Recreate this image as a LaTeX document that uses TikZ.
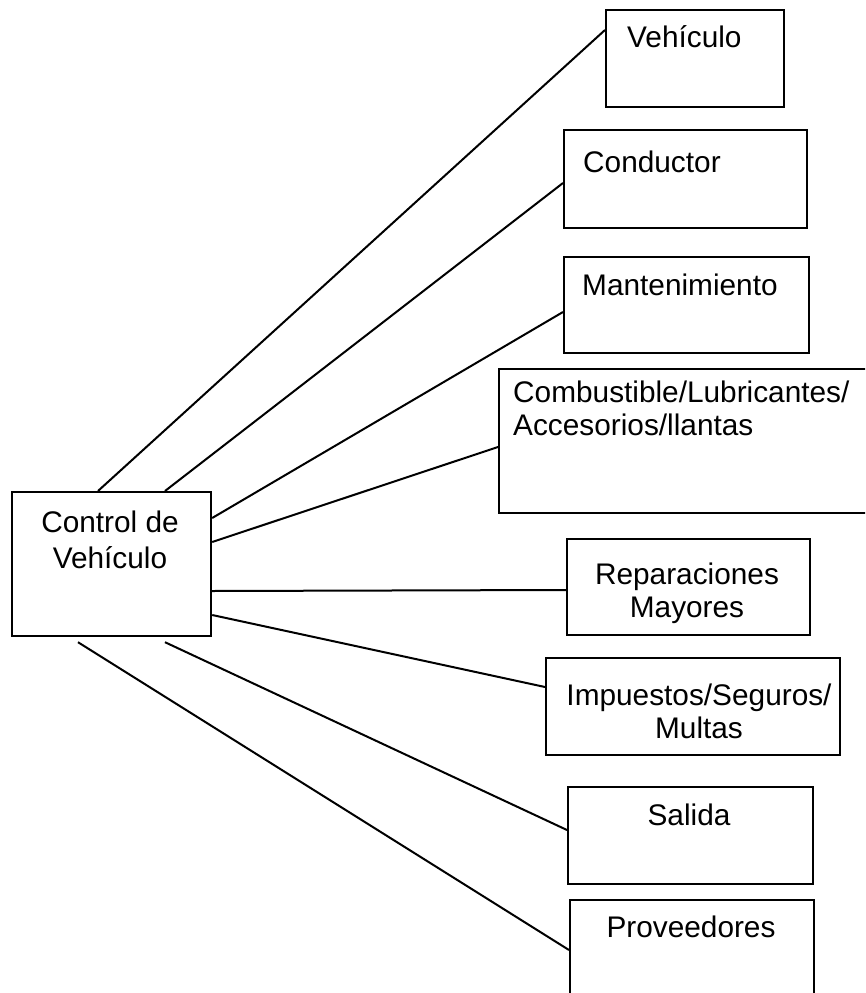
\documentclass[tikz,border=0pt]{standalone}
\usepackage{fontspec}
\setmainfont{Liberation Sans}
\usetikzlibrary{calc}
\begin{document}
\begin{tikzpicture}[x=1pt,y=-1pt,
  box/.style={draw, line width=2.2pt, minimum width=#1, inner sep=0pt, anchor=north west},
  wire/.style={line width=2pt},
  lbl/.style={inner sep=0pt, font={\fontsize{29.8}{33}\selectfont}, align=center}]
\useasboundingbox (0,0) rectangle (865,993);
\clip (0,0) rectangle (865,993);

% boxes: top-left corner, width and height
\node[box=199pt, minimum height=144pt] (ctrl) at (11,491) {};
\node[box=178pt, minimum height=97pt]  (veh)  at (605,9) {};
\node[box=243pt, minimum height=98pt]  (cond) at (563,129) {};
\node[box=245pt, minimum height=96pt]  (mant) at (563,256) {};
\node[box=390pt, minimum height=144pt] (comb) at (498,368) {};
\node[box=243pt, minimum height=96pt]  (rep)  at (566,538) {};
\node[box=294pt, minimum height=97pt]  (imp)  at (545,657) {};
\node[box=245pt, minimum height=97pt]  (sal)  at (567,786) {};
\node[box=244pt, minimum height=120pt] (prov) at (569,899) {};

% texts
\node[lbl, anchor=base, font={\fontsize{29.8}{36}\selectfont}] (tctrl) at (110,568) {Control de\\Vehículo};
\node[lbl, anchor=base west] (tveh) at (627,47) {Vehículo};
\node[lbl, anchor=base west] (tcond) at (583,172) {Conductor};
\node[lbl, anchor=base west] (tmant) at (582,295) {Mantenimiento};
\node[lbl, anchor=base west, align=left] (tcomb) at (513,435) {Combustible/Lubricantes/\\Accesorios/llantas};
\node[lbl, anchor=base] (trep) at (687,617) {Reparaciones\\Mayores};
\node[lbl, anchor=base] (timp) at (699,738) {Impuestos/Seguros/\\Multas};
\node[lbl, anchor=base] (tsal) at (689,825) {Salida};
\node[lbl, anchor=base] (tprov) at (691,937) {Proveedores};

% connectors from the central box to each item
\draw[wire] ($(ctrl.north west)+(87,0)$) -- ($(veh.north west)+(0,21)$);
\draw[wire] ($(ctrl.north west)+(154,0)$) -- ($(cond.north west)+(0,54)$);
\draw[wire] ($(ctrl.north east)+(0,27)$) -- ($(mant.north west)+(0,56)$);
\draw[wire] ($(ctrl.north east)+(0,51)$) -- ($(comb.north west)+(0,79)$);
\draw[wire] ($(ctrl.north east)+(0,100)$) -- ($(rep.north west)+(0,52)$);
\draw[wire] ($(ctrl.north east)+(0,124)$) -- ($(imp.north west)+(0,30)$);
\draw[wire] ($(ctrl.south west)+(154,5)$) -- ($(sal.north west)+(0,44)$);
\draw[wire] ($(ctrl.south west)+(67,5)$) -- ($(prov.north west)+(0,51)$);
\end{tikzpicture}
\end{document}
